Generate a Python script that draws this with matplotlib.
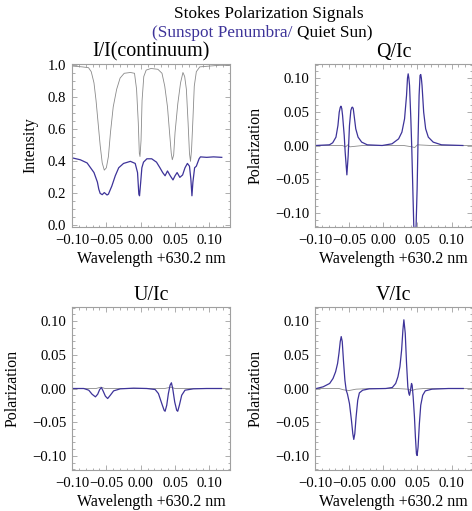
import numpy as np
import matplotlib.pyplot as plt
from matplotlib.ticker import MultipleLocator

plt.rcParams['font.family'] = ['Liberation Serif', 'DejaVu Serif']

# tick values and labels
wave_ticks = [-0.10, -0.05, 0.00, 0.05, 0.10]
wave_labels = ['\u22120.10', '\u22120.05', '0.00', '0.05', '0.10']
int_ticks = [0.0, 0.2, 0.4, 0.6, 0.8, 1.0]
int_labels = ['0.0', '0.2', '0.4', '0.6', '0.8', '1.0']
pol_ticks = [-0.10, -0.05, 0.00, 0.05, 0.10]
pol_labels = ['\u22120.10', '\u22120.05', '0.00', '0.05', '0.10']

# I / I(continuum), sunspot penumbra
i_spot_wave = [-0.098, -0.088, -0.078, -0.068, -0.063, -0.061, -0.059, -0.056, -0.053,
               -0.049, -0.047, -0.042, -0.037, -0.032, -0.025, -0.015, -0.008, -0.0046,
               -0.0027, -0.0017, 0.0000, 0.0017, 0.0041, 0.009, 0.016, 0.023, 0.028,
               0.032, 0.0355, 0.039, 0.043, 0.047, 0.050, 0.053, 0.057, 0.061, 0.0645,
               0.068, 0.071, 0.073, 0.0746, 0.076, 0.0785, 0.081, 0.085, 0.087, 0.096,
               0.106, 0.118]
i_spot = [0.42, 0.41, 0.39, 0.33, 0.27, 0.226, 0.20, 0.192, 0.205,
          0.19, 0.195, 0.246, 0.31, 0.36, 0.387, 0.40, 0.387, 0.33,
          0.195, 0.185, 0.27, 0.36, 0.395, 0.416, 0.416, 0.395, 0.36,
          0.33, 0.31, 0.34, 0.31, 0.284, 0.31, 0.33, 0.30, 0.315, 0.36,
          0.387, 0.37, 0.29, 0.185, 0.27, 0.36, 0.37, 0.416, 0.428, 0.425,
          0.428, 0.425]

# I / I(continuum), quiet sun
i_quiet_wave = [-0.099, -0.085, -0.076, -0.072, -0.068, -0.065, -0.062, -0.059, -0.056,
                -0.053, -0.050, -0.047, -0.044, -0.040, -0.035, -0.030, -0.024, -0.015,
                -0.009, -0.006, -0.0035, -0.002, -0.001, 0.0005, 0.002, 0.0045, 0.008,
                0.015, 0.025, 0.031, 0.035, 0.039, 0.042, 0.0445, 0.046, 0.048, 0.050,
                0.054, 0.058, 0.0615, 0.064, 0.0665, 0.069, 0.071, 0.0725, 0.074, 0.076,
                0.078, 0.081, 0.086, 0.100, 0.115, 0.129]
i_quiet = [0.995, 0.99, 0.985, 0.96, 0.89, 0.78, 0.64, 0.50, 0.39,
           0.345, 0.36, 0.43, 0.58, 0.74, 0.85, 0.92, 0.95, 0.955,
           0.95, 0.85, 0.64, 0.45, 0.43, 0.53, 0.78, 0.93, 0.97,
           0.98, 0.975, 0.95, 0.87, 0.74, 0.58, 0.45, 0.41, 0.44, 0.58,
           0.76, 0.89, 0.955, 0.93, 0.85, 0.64, 0.45, 0.40, 0.47, 0.66,
           0.87, 0.96, 0.99, 0.995, 1.0, 1.0]

# Q / Ic
q_spot_wave = [-0.0992, -0.0789, -0.0741, -0.0693, -0.0664, -0.0645, -0.0630, -0.0620,
               -0.0608, -0.0596, -0.0572, -0.0558, -0.0533, -0.0514, -0.0495, -0.0475,
               -0.0460, -0.0451, -0.0440, -0.0427, -0.0403, -0.0369, -0.0316, -0.0234,
               -0.0016, 0.0128, 0.0225, 0.0273, 0.0312, 0.0341, 0.0355, 0.0365, 0.0375,
               0.0385, 0.0404, 0.0418, 0.0433, 0.0447, 0.0467, 0.0481, 0.0496, 0.0510,
               0.0525, 0.0539, 0.0549, 0.0558, 0.0568, 0.0592, 0.0621, 0.0660, 0.0732,
               0.0853, 0.1167]
q_spot = [0.0, 0.001, 0.004, 0.0124, 0.0297, 0.0495, 0.0565, 0.0584,
          0.055, 0.0446, 0.0149, -0.0099, -0.0436, -0.0149, 0.0297, 0.052,
          0.0565, 0.0569, 0.055, 0.0446, 0.0248, 0.0124, 0.005, 0.001,
          0.0, 0.0025, 0.0099, 0.0198, 0.0396, 0.0743, 0.100, 0.1064, 0.100,
          0.0891, 0.0396, -0.005, -0.0644, -0.119, -0.139, -0.119, -0.0644, 0.0099,
          0.0743, 0.104, 0.1054, 0.100, 0.0891, 0.0495, 0.0248, 0.0124, 0.005,
          0.001, 0.0]
q_quiet_wave = [-0.10, -0.06, -0.055, -0.052, -0.049, -0.03, 0.0, 0.03, 0.042, 0.046,
                0.05, 0.07, 0.13]
q_quiet = [0.0, 0.0, -0.002, 0.001, -0.002, 0.0, 0.0, 0.0, -0.002, -0.003,
           0.001, 0.0, 0.0]

# U / Ic
u_spot_wave = [-0.0983, -0.0829, -0.0756, -0.0708, -0.0659, -0.0626, -0.0597, -0.0572,
               -0.0548, -0.0514, -0.0481, -0.0442, -0.0394, -0.0297, -0.0104, 0.0089,
               0.0210, 0.0258, 0.0307, 0.0341, 0.0355, 0.0379, 0.0403, 0.0428, 0.0447,
               0.0466, 0.0495, 0.0524, 0.0539, 0.0563, 0.0597, 0.0645, 0.0766, 0.0959,
               0.1176]
u_spot = [0.0, 0.0, -0.0025, -0.0085, -0.0124, -0.0085, -0.0015, 0.0015,
          -0.0035, -0.0114, -0.0149, -0.01, -0.0035, -0.0005, 0.0005, 0.0,
          -0.0015, -0.0075, -0.0224, -0.0323, -0.0338, -0.0249, -0.0075, 0.005, 0.0085,
          0.0, -0.0199, -0.0323, -0.0338, -0.0249, -0.01, -0.0025, -0.0005, 0.0,
          0.0]
u_quiet_wave = [-0.10, -0.065, -0.058, -0.052, -0.03, 0.0, 0.035, 0.044, 0.05, 0.07, 0.13]
u_quiet = [0.0, 0.0, 0.002, 0.0, 0.0, 0.0, 0.0, 0.002, 0.0, 0.0, 0.0]

# V / Ic
v_spot_wave = [-0.0978, -0.0881, -0.0785, -0.0736, -0.0698, -0.0669, -0.0649, -0.0630,
               -0.0616, -0.0601, -0.0582, -0.0562, -0.0543, -0.0524, -0.0495, -0.0466,
               -0.0446, -0.0432, -0.0417, -0.0398, -0.0374, -0.0350, -0.0301, -0.0205,
               0.0037, 0.0133, 0.0182, 0.0215, 0.0244, 0.0269, 0.0288, 0.0302, 0.0322,
               0.0341, 0.0360, 0.0375, 0.0385, 0.0399, 0.0414, 0.0423, 0.0438, 0.0457,
               0.0471, 0.0486, 0.0496, 0.0510, 0.0529, 0.0549, 0.0578, 0.0616, 0.0713,
               0.0955, 0.1172]
v_spot = [0.0, 0.0025, 0.0075, 0.0149, 0.0249, 0.0373, 0.0522, 0.0697,
          0.0771, 0.0697, 0.0398, 0.0124, -0.0025, -0.0085, -0.0224, -0.0473,
          -0.0672, -0.0756, -0.0672, -0.0423, -0.0174, -0.0065, -0.0025, -0.0005,
          0.0, 0.0015, 0.0075, 0.0174, 0.0323, 0.0572, 0.0871, 0.102, 0.0821,
          0.0373, 0.0025, -0.0075, -0.01, -0.0025, 0.0075, 0.005, -0.0124, -0.0423,
          -0.0721, -0.097, -0.0995, -0.0871, -0.0522, -0.0249, -0.01, -0.0035, -0.001,
          0.0, 0.0]
v_quiet_wave = [-0.10, -0.065, -0.058, -0.05, -0.04, -0.02, 0.02, 0.036, 0.042, 0.048,
                0.06, 0.13]
v_quiet = [0.0, 0.0, -0.002, -0.003, -0.001, 0.0, 0.0, -0.001, -0.003, -0.001,
           0.0, 0.0]

spot_color = '#3d3399'
quiet_color = '#8a8a8a'
frame_color = '#a0a0a0'

W, H = 472, 511
fig = plt.figure(figsize=(W / 100, H / 100), dpi=100)


def panel(left, top, right, bottom):
    return fig.add_axes([left / W, 1 - bottom / H, (right - left) / W, (bottom - top) / H])


def style(ax, title, yticks, ylabels, ylim, ylabel, yminor, ylab_x):
    ax.set_xlim(-0.10, 0.13)
    ax.set_ylim(*ylim)
    ax.set_xticks(wave_ticks)
    ax.set_xticklabels(wave_labels)
    ax.set_yticks(yticks)
    ax.set_yticklabels(ylabels)
    ax.xaxis.set_minor_locator(MultipleLocator(0.01))
    ax.yaxis.set_minor_locator(MultipleLocator(yminor))
    ax.tick_params(which='both', direction='in', top=True, right=True,
                   color=frame_color, labelsize=10.6, width=0.6)
    ax.tick_params(which='major', length=3.5)
    ax.tick_params(which='minor', length=1.8)
    ax.tick_params(axis='x', pad=5)
    ax.tick_params(axis='y', pad=4)
    for s in ax.spines.values():
        s.set_color(frame_color)
        s.set_linewidth(0.8)
    ax.text(0.5, 1 + 12 / 163, title, transform=ax.transAxes, ha='center',
            va='center', fontsize=14.4)
    ax.set_xlabel('Wavelength +630.2 nm', fontsize=11.5, va='center')
    ax.xaxis.set_label_coords(0.5, -32 / 163)
    ax.set_ylabel(ylabel, fontsize=11.5, va='center')
    ax.yaxis.set_label_coords(ylab_x, 0.5)


pol_lim = (-0.121, 0.121)

# I/I(continuum)
ax1 = panel(72, 64, 230, 227)
ax1.plot(i_quiet_wave, i_quiet, color=quiet_color, lw=0.6)
ax1.plot(i_spot_wave, i_spot, color=spot_color, lw=0.9)
style(ax1, 'I/I(continuum)', int_ticks, int_labels, (-0.01, 1.008), 'Intensity', 0.05, -0.266)

# Q/Ic
ax2 = panel(315, 64, 472, 227)
ax2.plot(q_quiet_wave, q_quiet, color=quiet_color, lw=0.6)
ax2.plot(q_spot_wave, q_spot, color=spot_color, lw=0.9)
style(ax2, 'Q/Ic', pol_ticks, pol_labels, pol_lim, 'Polarization', 0.01, -0.376)

# U/Ic
ax3 = panel(72, 307, 230, 470)
ax3.plot(u_quiet_wave, u_quiet, color=quiet_color, lw=0.6)
ax3.plot(u_spot_wave, u_spot, color=spot_color, lw=0.9)
style(ax3, 'U/Ic', pol_ticks, pol_labels, pol_lim, 'Polarization', 0.01, -0.373)

# V/Ic
ax4 = panel(315, 307, 472, 470)
ax4.plot(v_quiet_wave, v_quiet, color=quiet_color, lw=0.6)
ax4.plot(v_spot_wave, v_spot, color=spot_color, lw=0.9)
style(ax4, 'V/Ic', pol_ticks, pol_labels, pol_lim, 'Polarization', 0.01, -0.376)

# titles
fig.text(269 / W, 1 - 14 / H, 'Stokes Polarization Signals', ha='center', va='center',
         fontsize=12.4)
fig.text(292 / W, 1 - 33 / H, '(Sunspot Penumbra/', ha='right', va='center',
         fontsize=12.4, color=spot_color)
fig.text(297 / W, 1 - 33 / H, 'Quiet Sun)', ha='left', va='center', fontsize=12.4)

fig.savefig('out.png', dpi=100)
